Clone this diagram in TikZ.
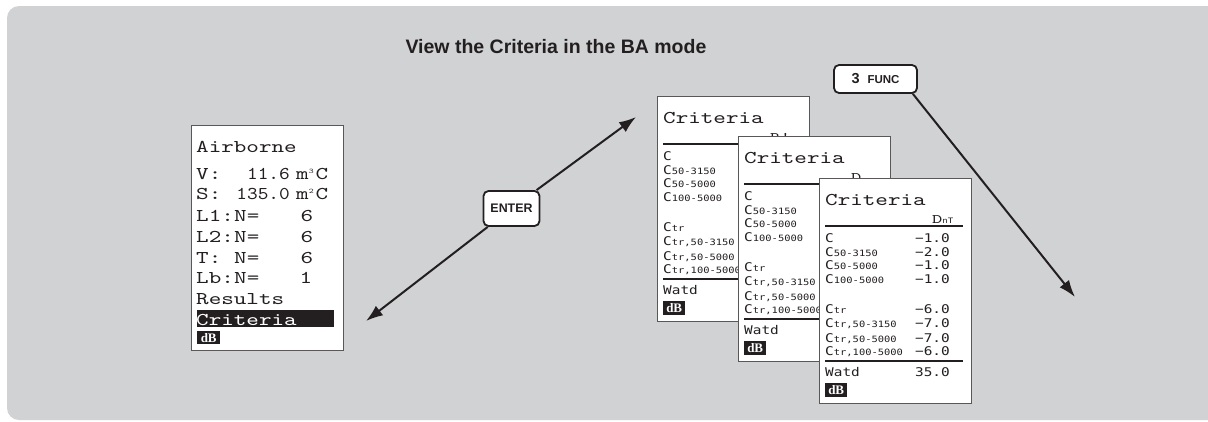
\documentclass[tikz,border=0pt]{standalone}
\usepackage{fontspec}
\setmainfont{Liberation Sans}
\newfontfamily\scrfont[FakeStretch=1.33, Extension=.otf]{lmmono10-regular}
\newfontfamily\numfont[FakeStretch=1.13, Extension=.otf]{lmmono10-regular}
\newfontfamily\lcdfont[FakeStretch=1.2]{DejaVu Sans Mono}
\newfontfamily\hdrfont[FakeStretch=1.5, Extension=.otf]{lmmono10-regular}
\newfontfamily\dbfont{Liberation Serif}
\usetikzlibrary{arrows.meta}
\definecolor{bggray}{HTML}{D1D2D4}
\definecolor{ink}{HTML}{231F20}
\tikzset{
 big/.style={font=\scrfont\fontsize{18}{18}\selectfont, inner sep=0pt, anchor=base west, text=ink},
 num/.style={font=\numfont\fontsize{18}{18}\selectfont, inner sep=0pt, anchor=base east, text=ink},
 val/.style={font=\lcdfont\fontsize{12}{12}\selectfont, inner sep=0pt, anchor=base east, text=ink},
 lab/.style={font=\lcdfont\fontsize{12}{12}\selectfont, inner sep=0pt, anchor=base west, text=ink},
 hdr/.style={font=\hdrfont\fontsize{13}{13}\selectfont, inner sep=0pt, anchor=base west, text=ink},
 scrbox/.style={draw=ink!75, line width=0.9pt, fill=white, anchor=north west, inner sep=0pt, minimum width=152pt, minimum height=225pt},
 key/.style={draw=ink, line width=1.8pt, fill=white, rounded corners=5pt, font=\bfseries, text=ink, inner sep=0pt},
 arr/.style={draw=ink, line width=2pt, -{Latex[length=17pt,width=12pt]}},
 dbbox/.style={fill=ink, text=white, font=\dbfont\bfseries\fontsize{13}{13}\selectfont, inner sep=0pt, anchor=north west, minimum width=22pt, minimum height=14pt},
 sepline/.style={draw=ink, line width=1.6pt},
}
\newcommand\subs[1]{{\fontsize{8.7}{8}\selectfont #1}}
\newcommand\critscreen[4]{%
\begin{scope}[shift={(#2,#3)}]
 \node[scrbox] (#1) at (0,0) {};
 \node[big] (#1-t) at (6,27) {Criteria};
 \node[hdr] (#1-h) at (113,45) {#4};
 \draw[sepline] (6,48) -- (144,48);
 \node[lab] (#1-c1) at (6,64) {C};
 \node[lab] (#1-c2) at (6,78) {C\subs{50-3150}};
 \node[lab] (#1-c3) at (6,91) {C\subs{50-5000}};
 \node[lab] (#1-c4) at (6,105) {C\subs{100-5000}};
 \node[lab] (#1-c5) at (6,135) {C\subs{tr}};
 \node[lab] (#1-c6) at (6,149) {C\subs{tr,50-3150}};
 \node[lab] (#1-c7) at (6,164) {C\subs{tr,50-5000}};
 \node[lab] (#1-c8) at (6,177) {C\subs{tr,100-5000}};
 \draw[sepline] (6,183) -- (144,183);
 \node[lab] (#1-w) at (6,198) {Watd};
 \node[dbbox] (#1-db) at (6,205) {dB};
\end{scope}}
\begin{document}
\begin{tikzpicture}[x=1pt,y=-1pt]
\useasboundingbox (0,0) rectangle (1208,421);
\fill[white] (0,0) rectangle (1208,421);
\fill[bggray, rounded corners=12pt] (7,6) rectangle (1230,420);
\node[font=\bfseries\fontsize{19.5}{19.5}\selectfont, text=ink] (title) at (556,47) {View the Criteria in the BA mode};

% keys and arrows
\node[key, minimum width=56pt, minimum height=35pt, font=\bfseries\fontsize{12.4}{12}\selectfont] (enter) at (511.5,208.5) {ENTER};
\node[key, minimum width=83pt, minimum height=28pt] (func) at (875.5,79) {{\fontsize{14.5}{14}\selectfont 3}\hspace{8pt}{\fontsize{11.5}{11}\selectfont FUNC}};
\coordinate (e1) at (366,321);
\coordinate (e2) at (636,117);
\coordinate (f1) at (1075,297);
\draw[arr] (enter) -- (e1);
\draw[arr] (enter) -- (e2);
\draw[arr] ([xshift=-5pt]func.south east) -- (f1);

% left screen
\node[scrbox] (air) at (191,125) {};
\node[big] (a1) at (196,152) {Airborne};
\node[big] (a2) at (196,179) {V:};
\node[num] (a2n) at (290,179) {11.6};
\node[big] (a2u) at (296,179) {m\raisebox{6pt}{\fontsize{7}{7}\selectfont 3}\hspace{2pt}C};
\node[big] (a3) at (196,199) {S:};
\node[num] (a3n) at (290,199) {135.0};
\node[big] (a3u) at (296,199) {m\raisebox{6pt}{\fontsize{7}{7}\selectfont 2}\hspace{2pt}C};
\node[big] (a4) at (196,221) {L1:};
\node[big] (a4n) at (234,221) {N=};
\node[big, anchor=base] (a4v) at (307,221) {6};
\node[big] (a5) at (196,242) {L2:};
\node[big] (a5n) at (234,242) {N=};
\node[big, anchor=base] (a5v) at (307,242) {6};
\node[big] (a6) at (196,263) {T:};
\node[big] (a6n) at (234,263) {N=};
\node[big, anchor=base] (a6v) at (307,263) {6};
\node[big] (a7) at (196,283) {Lb:};
\node[big] (a7n) at (234,283) {N=};
\node[big, anchor=base] (a7v) at (306,283) {1};
\node[big] (a8) at (196,304) {Results};
\node[fill=ink, anchor=north west, inner sep=0pt, minimum width=137pt, minimum height=17pt] (hl) at (197,310) {};
\node[big, text=white] (a9) at (196,325) {Criteria};
\node[dbbox, minimum width=23pt, minimum height=13pt] (adb) at (197,331) {dB};

% stacked screens
\critscreen{s1}{657}{96}{R'}
\critscreen{s2}{738}{136}{D}
\critscreen{s3}{819}{178}{D{\lcdfont\fontsize{7.5}{7}\selectfont nT}}
\begin{scope}[shift={(819,178)}]
 \node[val] (v1) at (131,64) {−1.0};
 \node[val] (v2) at (131,78) {−2.0};
 \node[val] (v3) at (131,91) {−1.0};
 \node[val] (v4) at (131,105) {−1.0};
 \node[val] (v5) at (131,135) {−6.0};
 \node[val] (v6) at (131,149) {−7.0};
 \node[val] (v7) at (131,164) {−7.0};
 \node[val] (v8) at (131,177) {−6.0};
 \node[val] (v9) at (131,198) {35.0};
\end{scope}
\end{tikzpicture}
\end{document}
